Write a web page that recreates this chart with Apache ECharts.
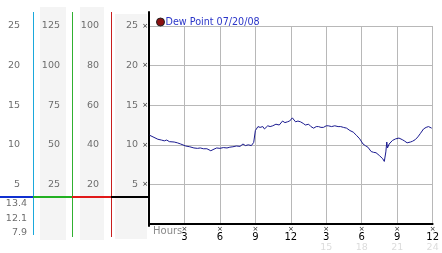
<!DOCTYPE html>
<html><head><meta charset="utf-8">
<script src="https://cdn.jsdelivr.net/npm/echarts@6/dist/echarts.min.js"></script>
<style>html,body{margin:0;padding:0;background:#fff}#c{width:442px;height:253px}</style>
</head><body><div id="c"></div>
<script>
var seriesName = 'Dew Point 07/20/08';
var hours = [0.06,0.19,0.75,1.05,1.30,1.50,1.72,2.13,2.40,2.68,3.10,3.45,3.80,4.10,4.34,4.60,4.90,5.23,5.50,5.73,6.00,6.29,6.60,6.84,7.10,7.39,7.70,7.95,8.16,8.40,8.66,8.86,9.00,9.22,9.40,9.63,9.77,10.05,10.25,10.47,10.74,11.02,11.30,11.50,11.71,11.90,12.13,12.40,12.60,12.82,13.05,13.23,13.51,13.70,13.93,14.15,14.34,14.55,14.76,15.00,15.17,15.45,15.72,16.00,16.22,16.45,16.72,17.00,17.28,17.55,17.83,18.11,18.30,18.52,18.80,19.00,19.21,19.49,19.77,19.91,20.04,20.12,20.18,20.32,20.60,20.87,21.15,21.43,21.60,21.84,22.12,22.30,22.53,22.75,22.95,23.23,23.45,23.65,23.92];
var dew   = [11.2,11.0,10.7,10.6,10.5,10.6,10.4,10.35,10.25,10.1,9.85,9.75,9.6,9.55,9.6,9.5,9.5,9.25,9.45,9.6,9.55,9.65,9.6,9.7,9.75,9.85,9.8,10.1,9.9,10.0,9.9,10.3,11.8,12.3,12.2,12.3,12.0,12.4,12.3,12.4,12.6,12.5,13.0,12.8,12.9,13.0,13.4,12.9,13.0,12.9,12.7,12.5,12.6,12.3,12.1,12.3,12.3,12.2,12.2,12.4,12.4,12.3,12.4,12.3,12.3,12.2,12.1,11.8,11.6,11.2,10.75,10.1,9.9,9.7,9.15,9.05,9.0,8.65,8.25,7.9,9.1,10.35,9.6,10.1,10.55,10.75,10.85,10.65,10.5,10.25,10.35,10.45,10.65,11.0,11.4,12.0,12.2,12.3,12.1];
var yTicks = [0,5,10,15,20,25];
var col1Labels = ['','5','10','15','20','25'];
var col2Labels = ['','25','50','75','100','125'];
var col3Labels = ['','20','40','60','80','100'];
var col4Labels = ['','5','10','15','20','25'];
var xTicks = [0,3,6,9,12,15,18,21,24];
var xTickLabels = ['','3','6','9','12','3','6','9','12'];
var xFaintLabels = ['','','','','','15','18','21','24'];

var FONT = 'DejaVu Sans';
var data = hours.map(function(h,i){return [h, dew[i]];});
function labelAxis(labels, offset){
  return {type:'value', gridIndex:0, position:'left', offset:offset, min:0, max:25, interval:5,
    axisLine:{show:false}, axisTick:{show:false}, splitLine:{show:false},
    axisLabel:{show:true, margin:8, color:'#6e6e6e', fontFamily:FONT, fontSize:9.5, align:'right',
      formatter:function(v){var i=yTicks.indexOf(v);return i<0?'':labels[i];}}};
}
var maxV = Math.max.apply(null,dew), minV = Math.min.apply(null,dew), lastV = dew[dew.length-1];
function bar(x,y,w,h,c){return {type:'rect', silent:true, shape:{x:x,y:y,width:w,height:h}, style:{fill:c}};}

var chart = echarts.init(document.getElementById('c'), null, {renderer:'canvas'});
chart.setOption({
  animation:false,
  backgroundColor:'#fff',
  legend:{left:156, top:17, itemWidth:8, itemHeight:8, padding:0,
    data:[{name:seriesName, icon:'circle', itemStyle:{color:'#8b1010', borderColor:'#222', borderWidth:1}}],
    textStyle:{color:'#2a35c8', fontFamily:FONT, fontSize:9.6, padding:[0,0,0,-4]}},
  grid:[{left:149, top:26, width:289, height:200},{left:149, top:12, width:289, height:214}],
  xAxis:[{type:'value', gridIndex:0, min:0, max:24, interval:3,
      axisLine:{show:true, onZero:false, lineStyle:{color:'#000', width:2}},
      axisTick:{show:false},
      splitLine:{show:true, lineStyle:{color:'#b8b8b8', width:1}},
      axisLabel:{show:true, margin:2, showMinLabel:true, showMaxLabel:true,
        formatter:function(v){var i=xTicks.indexOf(v); if(i<=0) return ''; return '{t|\u00d7}\n{v|'+xTickLabels[i]+'}\n{f|'+(xFaintLabels[i]||' ')+'}';},
        rich:{t:{fontSize:7, lineHeight:6, color:'#222', fontFamily:FONT, align:'center'},
              v:{fontSize:10, lineHeight:11, color:'#000', fontFamily:FONT, align:'center'},
              f:{fontSize:9.5, lineHeight:10, color:'#dcdcdc', fontFamily:FONT, align:'center'}}}},
    {type:'value', gridIndex:1, min:0, max:24, show:false}],
  yAxis:[{type:'value', gridIndex:0, min:0, max:25, interval:5,
      axisLine:{show:true, lineStyle:{color:'#000', width:2}},
      axisTick:{show:false},
      splitLine:{show:true, lineStyle:{color:'#b8b8b8', width:1}},
      axisLabel:{show:true, margin:1, color:'#222', fontSize:7, fontFamily:FONT,
        formatter:function(v){return v===0?'':'\u00d7';}}},
    {type:'value', gridIndex:1, min:0, max:1, axisLine:{show:true, lineStyle:{color:'#000', width:2}},
      axisTick:{show:false}, axisLabel:{show:false}, splitLine:{show:false}},
    labelAxis(col4Labels, 3), labelAxis(col3Labels, 42), labelAxis(col2Labels, 81), labelAxis(col1Labels, 121)],
  graphic:{type:'group', z:-1, children:[
    bar(40,7,26,233,'#f4f4f4'),
    bar(80,7,24,233,'#f4f4f4'),
    bar(115,14,32,225,'#f4f4f4'),
    bar(33,12,1,223,'#1aa8dc'),
    bar(72,12,1,225,'#30b030'),
    bar(111,12,1,225,'#c81e1e'),
    bar(0,196,33,2,'#1030d0'),
    bar(33,196,39,2,'#22b022'),
    bar(72,196,39,2,'#e01818'),
    bar(111,196,38,2,'#000000'),
    {type:'text', style:{x:27, y:204, text:maxV.toFixed(1), align:'right', verticalAlign:'middle', fill:'#6e6e6e', font:'9.5px "DejaVu Sans"'}},
    {type:'text', style:{x:27, y:218.5, text:lastV.toFixed(1), align:'right', verticalAlign:'middle', fill:'#6e6e6e', font:'9.5px "DejaVu Sans"'}},
    {type:'text', style:{x:27, y:232.5, text:minV.toFixed(1), align:'right', verticalAlign:'middle', fill:'#6e6e6e', font:'9.5px "DejaVu Sans"'}},
    {type:'text', style:{x:153, y:231, text:'Hours', align:'left', verticalAlign:'middle', fill:'#8a8a8a', font:'10px "DejaVu Sans"'}}
  ]},
  series:[{name:seriesName, type:'line', xAxisIndex:0, yAxisIndex:0, data:data, symbol:'none',
    lineStyle:{color:'#1a1a90', width:1}, itemStyle:{color:'#1a1a90'}}]
});
</script></body></html>
